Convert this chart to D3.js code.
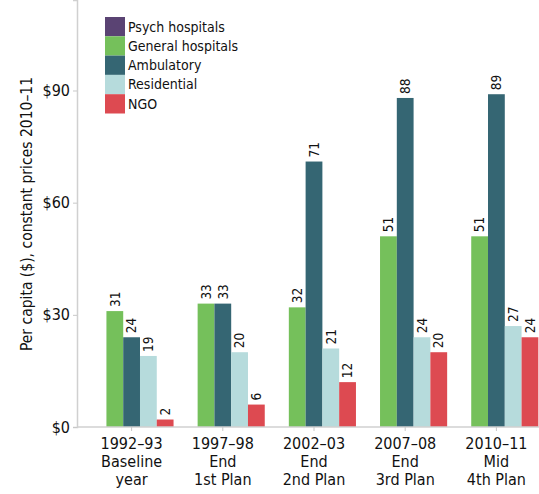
<!DOCTYPE html>
<html>
<head>
<meta charset="utf-8">
<script src="https://cdn.jsdelivr.net/npm/d3@7"></script>
<style>
  body { margin: 0; background: #fff; }
  svg text { font-family: "Liberation Sans Narrow", "DejaVu Sans Condensed", sans-serif; fill: #111; }
</style>
</head>
<body>
<svg id="chart" width="539" height="494"></svg>
<script>
// data
let periods = ["1992–93", "1997–98", "2002–03", "2007–08", "2010–11"];
let subLabels = [["Baseline", "year"], ["End", "1st Plan"], ["End", "2nd Plan"], ["End", "3rd Plan"], ["Mid", "4th Plan"]];
let seriesNames = ["Psych hospitals", "General hospitals", "Ambulatory", "Residential", "NGO"];
let psych = [0, 0, 0, 0, 0];
let general = [31, 33, 32, 51, 51];
let ambulatory = [24, 33, 71, 88, 89];
let residential = [19, 20, 21, 24, 27];
let ngo = [2, 6, 12, 20, 24];
let yTicks = [0, 30, 60, 90];
let colors = ["#5a4373", "#75c05b", "#356673", "#b6dbdc", "#dd4a51"];

let allSeries = [psych, general, ambulatory, residential, ngo];

let svg = d3.select("#chart");
let margin = {left: 77, bottom: 427};

let x0 = d3.scaleBand()
    .domain(periods)
    .range([86, 542])
    .paddingInner(0.08)
    .paddingOuter(0.04);

let x1 = d3.scaleBand()
    .domain(seriesNames)
    .range([0, x0.bandwidth()]);

let y = d3.scaleLinear()
    .domain([0, 114.2])
    .range([427, 0]);

let color = d3.scaleOrdinal().domain(seriesNames).range(colors);

// y axis
let yAxis = svg.append("g")
    .attr("transform", "translate(" + margin.left + ",0)")
    .call(d3.axisLeft(y).tickValues(yTicks).tickSize(4).tickPadding(3).tickFormat(function (d) { return "$" + d; }));
yAxis.select(".domain").attr("stroke", "#d0d0d0").attr("stroke-width", 1.5);
yAxis.selectAll(".tick line").attr("stroke", "#c8c8c8");
yAxis.selectAll(".tick text").attr("font-size", 16).attr("fill", "#111");

// y title
svg.append("text")
    .attr("transform", "translate(32,214) rotate(-90)")
    .attr("text-anchor", "middle")
    .attr("font-size", 15.5)
    .text("Per capita ($), constant prices 2010–11");

// bars
let groups = svg.selectAll("g.grp")
    .data(periods)
    .enter()
    .append("g")
    .attr("class", "grp")
    .attr("transform", function (d) { return "translate(" + x0(d) + ",0)"; });

groups.each(function (p, i) {
    let g = d3.select(this);
    let vals = seriesNames.map(function (s, k) { return {s: s, v: allSeries[k][i]}; })
        .filter(function (d) { return d.v > 0; });
    g.selectAll("rect")
        .data(vals)
        .enter()
        .append("rect")
        .attr("x", function (d) { return x1(d.s); })
        .attr("y", function (d) { return y(d.v); })
        .attr("width", x1.bandwidth())
        .attr("height", function (d) { return y(0) - y(d.v); })
        .attr("fill", function (d) { return color(d.s); });
    g.selectAll("text.val")
        .data(vals)
        .enter()
        .append("text")
        .attr("class", "val")
        .attr("transform", function (d) {
            return "translate(" + (x1(d.s) + x1.bandwidth() / 2) + "," + (y(d.v) - 4) + ") rotate(-90)";
        })
        .attr("dy", "0.35em")
        .attr("font-size", 13.5)
        .text(function (d) { return d.v; });
});

// x axis
let xAxis = svg.append("g")
    .attr("transform", "translate(0," + margin.bottom + ")");
xAxis.append("line")
    .attr("x1", margin.left).attr("x2", 539)
    .attr("stroke", "#d0d0d0").attr("stroke-width", 1.5);
let xt = xAxis.selectAll("g.xt")
    .data(periods)
    .enter()
    .append("g")
    .attr("transform", function (d) { return "translate(" + (x0(d) + x0.bandwidth() / 2) + ",0)"; });
xt.append("line").attr("y2", 4).attr("stroke", "#c8c8c8");
xt.append("text")
    .attr("text-anchor", "middle")
    .attr("font-size", 16)
    .selectAll("tspan")
    .data(function (d, i) { return [d].concat(subLabels[i]); })
    .enter()
    .append("tspan")
    .attr("x", 0)
    .attr("y", function (d, i) { return 22 + i * 18; })
    .text(function (d) { return d; });

// legend
let legend = svg.append("g").attr("transform", "translate(105,17)");
let li = legend.selectAll("g")
    .data(seriesNames)
    .enter()
    .append("g")
    .attr("transform", function (d, i) { return "translate(0," + i * 19.3 + ")"; });
li.append("rect").attr("width", 20).attr("height", 19.3).attr("fill", function (d) { return color(d); });
li.append("text")
    .attr("x", 23)
    .attr("y", 9.7)
    .attr("dy", "0.35em")
    .attr("font-size", 14)
    .text(function (d) { return d; });
</script>
</body>
</html>
